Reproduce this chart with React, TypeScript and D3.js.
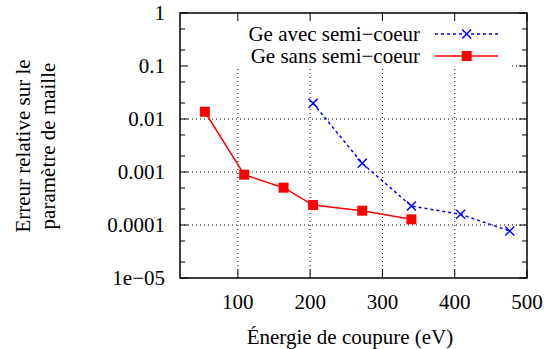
import React, { useEffect, useState } from "react";
import * as d3 from "d3";

const energyAvec = [204.1, 272.1, 340.1, 408.2, 476.2];
const errAvec = [0.0198, 0.00146, 0.000228, 0.000159, 0.000077];
const energySans = [54.4, 108.8, 163.3, 204.1, 272.1, 340.1];
const errSans = [0.0137, 0.00089, 0.000506, 0.000238, 0.000186, 0.000128];
const xTicks = [100, 200, 300, 400, 500];
const yTicks = [1, 0.1, 0.01, 0.001, 0.0001, 0.00001];
const yTickLabels = ["1", "0.1", "0.01", "0.001", "0.0001", "1e\u221205"];
const seriesNames = ["Ge avec semi\u2212coeur", "Ge sans semi\u2212coeur"];

const W = 547, H = 349;
const L = 180, R = 527, T = 13, B = 278;
const FONT = "'Liberation Serif', 'Times New Roman', Times, serif";
const FS = 21;

export default function App() {
  const [, setTick] = useState(0);
  useEffect(() => {
    const f = (document as any).fonts;
    if (f && f.load) {
      f.load(`${FS}px 'Liberation Serif'`).then(() => setTick((v) => v + 1)).catch(() => {});
    }
  }, []);
  const x = d3.scaleLinear().domain([20, 500]).range([L, R]);
  const y = d3.scaleLog().domain([1e-5, 1]).range([B, T]);
  const minor: number[] = [];
  for (let e = -5; e < 0; e++) {
    [2, 5].forEach((m) => minor.push(m * Math.pow(10, e)));
  }
  const line = d3.line<[number, number]>().x((d) => x(d[0])).y((d) => y(d[1]));
  const avec: [number, number][] = energyAvec.map((e, i) => [e, errAvec[i]]);
  const sans: [number, number][] = energySans.map((e, i) => [e, errSans[i]]);
  const cross = (cx: number, cy: number, k: string) => (
    <path key={k} d={`M${cx - 4.5},${cy - 4.5}L${cx + 4.5},${cy + 4.5}M${cx - 4.5},${cy + 4.5}L${cx + 4.5},${cy - 4.5}`} stroke="#0000ff" strokeWidth={1.5} fill="none" />
  );
  const square = (cx: number, cy: number, k: string) => (
    <rect key={k} x={cx - 5} y={cy - 5} width={10} height={10} fill="#ff0000" />
  );
  const ts: React.CSSProperties = { fontFamily: FONT, fontSize: FS };
  return (
    <svg width={W} height={H} style={{ position: "absolute", left: 0, top: 0, background: "#fff" }} fontFamily={FONT}>
      {/* grid */}
      {yTicks.slice(1, -1).map((t) => (
        <line key={"gy" + t} x1={L} x2={R} y1={y(t)} y2={y(t)} stroke="#000" strokeWidth={1} strokeDasharray="1,3" />
      ))}
      {xTicks.slice(0, -1).map((t) => (
        <line key={"gx" + t} x1={x(t)} x2={x(t)} y1={T} y2={B} stroke="#000" strokeWidth={1} strokeDasharray="1,3" />
      ))}
      {/* legend background */}
      <rect x={L + 1} y={T + 1} width={330} height={55} fill="#fff" />
      {/* ticks */}
      {yTicks.map((t) => (
        <g key={"ty" + t}>
          <line x1={L} x2={L + 8} y1={y(t)} y2={y(t)} stroke="#000" strokeWidth={1} />
          <line x1={R} x2={R - 8} y1={y(t)} y2={y(t)} stroke="#000" strokeWidth={1} />
        </g>
      ))}
      {minor.map((t) => (
        <g key={"my" + t}>
          <line x1={L} x2={L + 5} y1={y(t)} y2={y(t)} stroke="#000" strokeWidth={1} />
          <line x1={R} x2={R - 5} y1={y(t)} y2={y(t)} stroke="#000" strokeWidth={1} />
        </g>
      ))}
      {xTicks.map((t) => (
        <g key={"tx" + t}>
          <line x1={x(t)} x2={x(t)} y1={B} y2={B - 8} stroke="#000" strokeWidth={1} />
          <line x1={x(t)} x2={x(t)} y1={T} y2={T + 8} stroke="#000" strokeWidth={1} />
        </g>
      ))}
      {/* frame */}
      <rect x={L} y={T} width={R - L} height={B - T} fill="none" stroke="#000" strokeWidth={1.5} />
      {/* tick labels */}
      {yTicks.map((t, i) => (
        <text key={"ly" + t} x={165} y={y(t)} dy="0.35em" textAnchor="end" style={ts}>{yTickLabels[i]}</text>
      ))}
      {xTicks.map((t) => (
        <text key={"lx" + t} x={x(t)} y={302} dy="0.35em" textAnchor="middle" style={ts}>{t}</text>
      ))}
      {/* axis titles */}
      <text x={350} y={337} dy="0.35em" textAnchor="middle" style={ts}>Énergie de coupure (eV)</text>
      <g transform="translate(23,146) rotate(-90)">
        <text x={0} y={0} dy="0.35em" textAnchor="middle" style={ts}>Erreur relative sur le</text>
      </g>
      <g transform="translate(48,146) rotate(-90)">
        <text x={0} y={0} dy="0.35em" textAnchor="middle" style={ts}>paramètre de maille</text>
      </g>
      {/* series */}
      <path d={line(avec) || ""} fill="none" stroke="#0000ff" strokeWidth={1.5} strokeDasharray="3,3" />
      {avec.map((d, i) => cross(x(d[0]), y(d[1]), "a" + i))}
      <path d={line(sans) || ""} fill="none" stroke="#ff0000" strokeWidth={1.5} />
      {sans.map((d, i) => square(x(d[0]), y(d[1]), "s" + i))}
      {/* legend */}
      <text x={420} y={34} dy="0.35em" textAnchor="end" style={ts}>{seriesNames[0]}</text>
      <line x1={435} x2={498} y1={34} y2={34} stroke="#0000ff" strokeWidth={1.5} strokeDasharray="3,3" />
      {cross(466.7, 34, "la")}
      <text x={420} y={56} dy="0.35em" textAnchor="end" style={ts}>{seriesNames[1]}</text>
      <line x1={435} x2={498} y1={56} y2={56} stroke="#ff0000" strokeWidth={1.5} />
      {square(466.7, 56, "ls")}
    </svg>
  );
}
